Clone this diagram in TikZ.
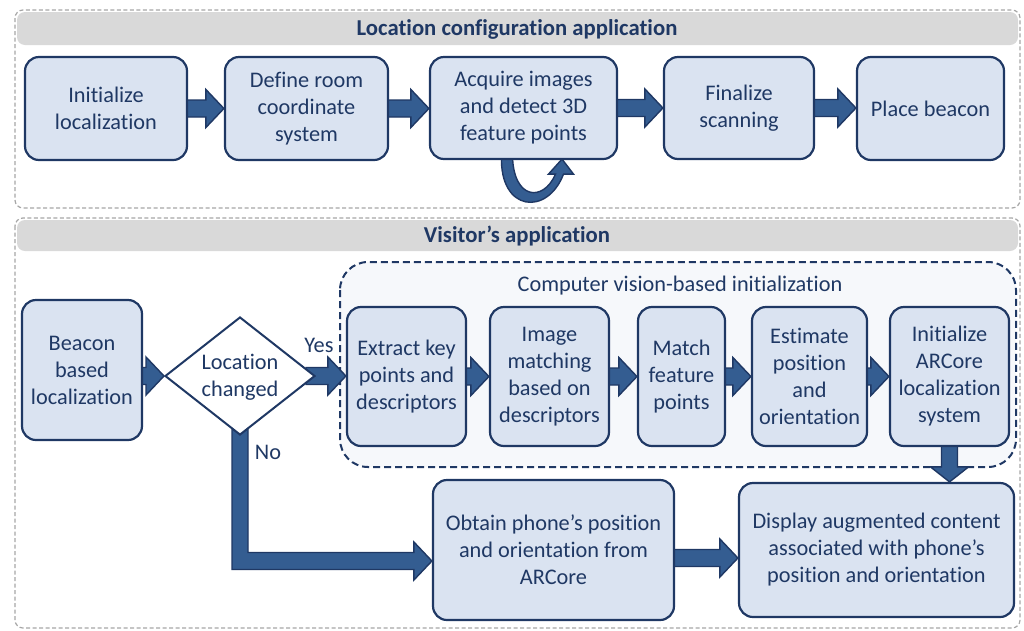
\documentclass[tikz,border=0pt]{standalone}
\usepackage{fontspec}
\setmainfont{Carlito}[Ligatures={NoCommon}]
\usetikzlibrary{shapes.geometric,calc}
\definecolor{navy}{HTML}{1F3864}
\definecolor{boxfill}{HTML}{DAE3F1}
\definecolor{arrfill}{HTML}{345D91}
\definecolor{hdr}{HTML}{D9D9D9}
\definecolor{outerc}{HTML}{A6A6A6}
\definecolor{grpfill}{HTML}{F6F8FB}
\pgfdeclarelayer{back}
\pgfsetlayers{back,main}
\tikzset{
  box/.style={draw=navy, line width=2.2pt, fill=boxfill, rounded corners=14pt, inner sep=0pt,
    align=center, text=navy, font=\fontsize{22.3}{27}\selectfont},
  txt/.style={align=center, text=navy, font=\fontsize{22.3}{27}\selectfont, inner sep=0pt},
  hdrtxt/.style={text=navy, font=\bfseries\fontsize{22.7}{26}\selectfont, inner sep=0pt},
  outerbox/.style={draw=outerc, line width=1.2pt, dash pattern=on 4pt off 2.5pt, rounded corners=8pt},
  hdrband/.style={fill=hdr, rounded corners=8pt},
  grp/.style={draw=navy, line width=2pt, dash pattern=on 7pt off 4pt, fill=grpfill, rounded corners=28pt},
  arrowsty/.style={fill=arrfill, draw=navy, line width=1.4pt, line join=miter},
  dia/.style={diamond, draw=navy, line width=2pt, fill=white, minimum width=150pt, minimum height=118pt, inner sep=0pt}
}
\newcommand\harrow[2]{\filldraw[arrowsty] let \p1=(#1), \p2=(#2) in
  (\x1,\y1+8.5pt) -- (\x2-18pt,\y1+8.5pt) -- (\x2-18pt,\y1+19pt) -- (\x2,\y1) --
  (\x2-18pt,\y1-19pt) -- (\x2-18pt,\y1-8.5pt) -- (\x1,\y1-8.5pt) -- cycle;}
\newcommand\varrow[2]{\filldraw[arrowsty] let \p1=(#1), \p2=(#2) in
  (\x1-8pt,\y1) -- (\x1+8pt,\y1) -- (\x1+8pt,\y2+15pt) -- (\x1+19pt,\y2+15pt) -- (\x1,\y2) --
  (\x1-19pt,\y2+15pt) -- (\x1-8pt,\y2+15pt) -- cycle;}
\begin{document}
\begin{tikzpicture}[x=1pt,y=-1pt]
\useasboundingbox (0,0) rectangle (1024,630);
\begin{pgfonlayer}{back}
  \draw[outerbox] (15,10) rectangle (1020,208);
  \fill[hdrband] (17,12) rectangle (1018,45);
  \draw[outerbox] (15,218) rectangle (1020,628);
  \fill[hdrband] (17,220) rectangle (1018,251);
  \draw[grp] (340,262) rectangle (1016,467);
\end{pgfonlayer}
\node[hdrtxt] (h1) at (517,29) {Location configuration application};
\node[hdrtxt] (h2) at (517,236) {Visitor’s application};
\node[txt] (cvlabel) at (680,286) {Computer vision-based initialization};

% top row
\node[box, minimum width=162pt, minimum height=103pt] (n1) at (106,108.5) {Initialize\\localization};
\node[box, minimum width=163pt, minimum height=103pt] (n2) at (306.5,108.5) {Define room\\coordinate\\system};
\node[box, minimum width=187pt, minimum height=102pt] (n3) at (523.5,108) {Acquire images\\and detect 3D\\feature points};
\node[box, minimum width=150pt, minimum height=102pt] (n4) at (739,108) {Finalize\\scanning};
\node[box, minimum width=147pt, minimum height=103pt] (n5) at (930.5,108.5) {Place beacon};

% visitor
\node[box, minimum width=120pt, minimum height=140pt] (beacon) at (82,370) {Beacon\\based\\localization};
\node[dia] (d) at (240,376) {};
\node[txt] (dtext) at (240,377) {Location\\changed};
\node[box, minimum width=119pt, minimum height=139pt] (extract) at (406.5,376.5) {Extract key\\points and\\descriptors};
\node[box, minimum width=119pt, minimum height=139pt] (image) at (549.5,376.5) {Image\\matching\\based on\\descriptors};
\node[box, minimum width=87pt, minimum height=139pt] (match) at (681.5,376.5) {Match\\feature\\points};
\node[box, minimum width=115pt, minimum height=139pt] (estimate) at (809.5,376.5) {Estimate\\position\\and\\orientation};
\node[box, minimum width=119pt, minimum height=139pt] (initar) at (949.5,376.5) {Initialize\\ARCore\\localization\\system};
\node[box, minimum width=241pt, minimum height=140pt] (obtain) at (553.5,550) {Obtain phone’s position\\and orientation from\\ARCore};
\node[box, minimum width=275pt, minimum height=134pt] (display) at (876.5,550) {Display augmented content\\associated with phone’s\\position and orientation};

\node[txt] (yes) at (319,345) {Yes};
\node[txt] (no) at (268,452) {No};

\begin{pgfonlayer}{back}
  \harrow{[xshift=-3pt]n1.east}{n2.west}
  \harrow{[xshift=-3pt]n2.east}{n3.west}
  \harrow{[xshift=-3pt]n3.east}{n4.west}
  \harrow{[xshift=-3pt]n4.east}{n5.west}
  % self loop under n3
  \begin{scope}[shift={(n3.south)}]
    \filldraw[arrowsty] (-22,-4) .. controls (-24,52) and (24,56) .. (40,14)
      -- (50,14) -- (38.5,-1) -- (25,14) -- (32,14)
      .. controls (20,42) and (-10,40) .. (-11,-4) -- cycle;
  \end{scope}
  \harrow{[xshift=-3pt]beacon.east |- d.west}{d.west}
  \harrow{[xshift=-10pt]d.east}{extract.west}
  \harrow{[xshift=-3pt]extract.east}{image.west}
  \harrow{[xshift=-3pt]image.east}{match.west}
  \harrow{[xshift=-3pt]match.east}{estimate.west}
  \harrow{[xshift=-3pt]estimate.east}{initar.west}
  \varrow{[yshift=3pt]initar.south}{display.north -| initar.south}
  \harrow{[xshift=-3pt,yshift=-8pt]obtain.east}{[yshift=-8pt]display.west}
  % No elbow
  \filldraw[arrowsty] let \p1=([yshift=10pt]d.south), \p2=([yshift=-11pt]obtain.west) in
    (\x1-8pt,\y1) -- (\x1+8pt,\y1) -- (\x1+8pt,\y2+8.5pt) -- (\x2-18pt,\y2+8.5pt) --
    (\x2-18pt,\y2+19pt) -- (\x2,\y2) -- (\x2-18pt,\y2-19pt) -- (\x2-18pt,\y2-8.5pt) --
    (\x1-8pt,\y2-8.5pt) -- cycle;
\end{pgfonlayer}
\end{tikzpicture}
\end{document}
